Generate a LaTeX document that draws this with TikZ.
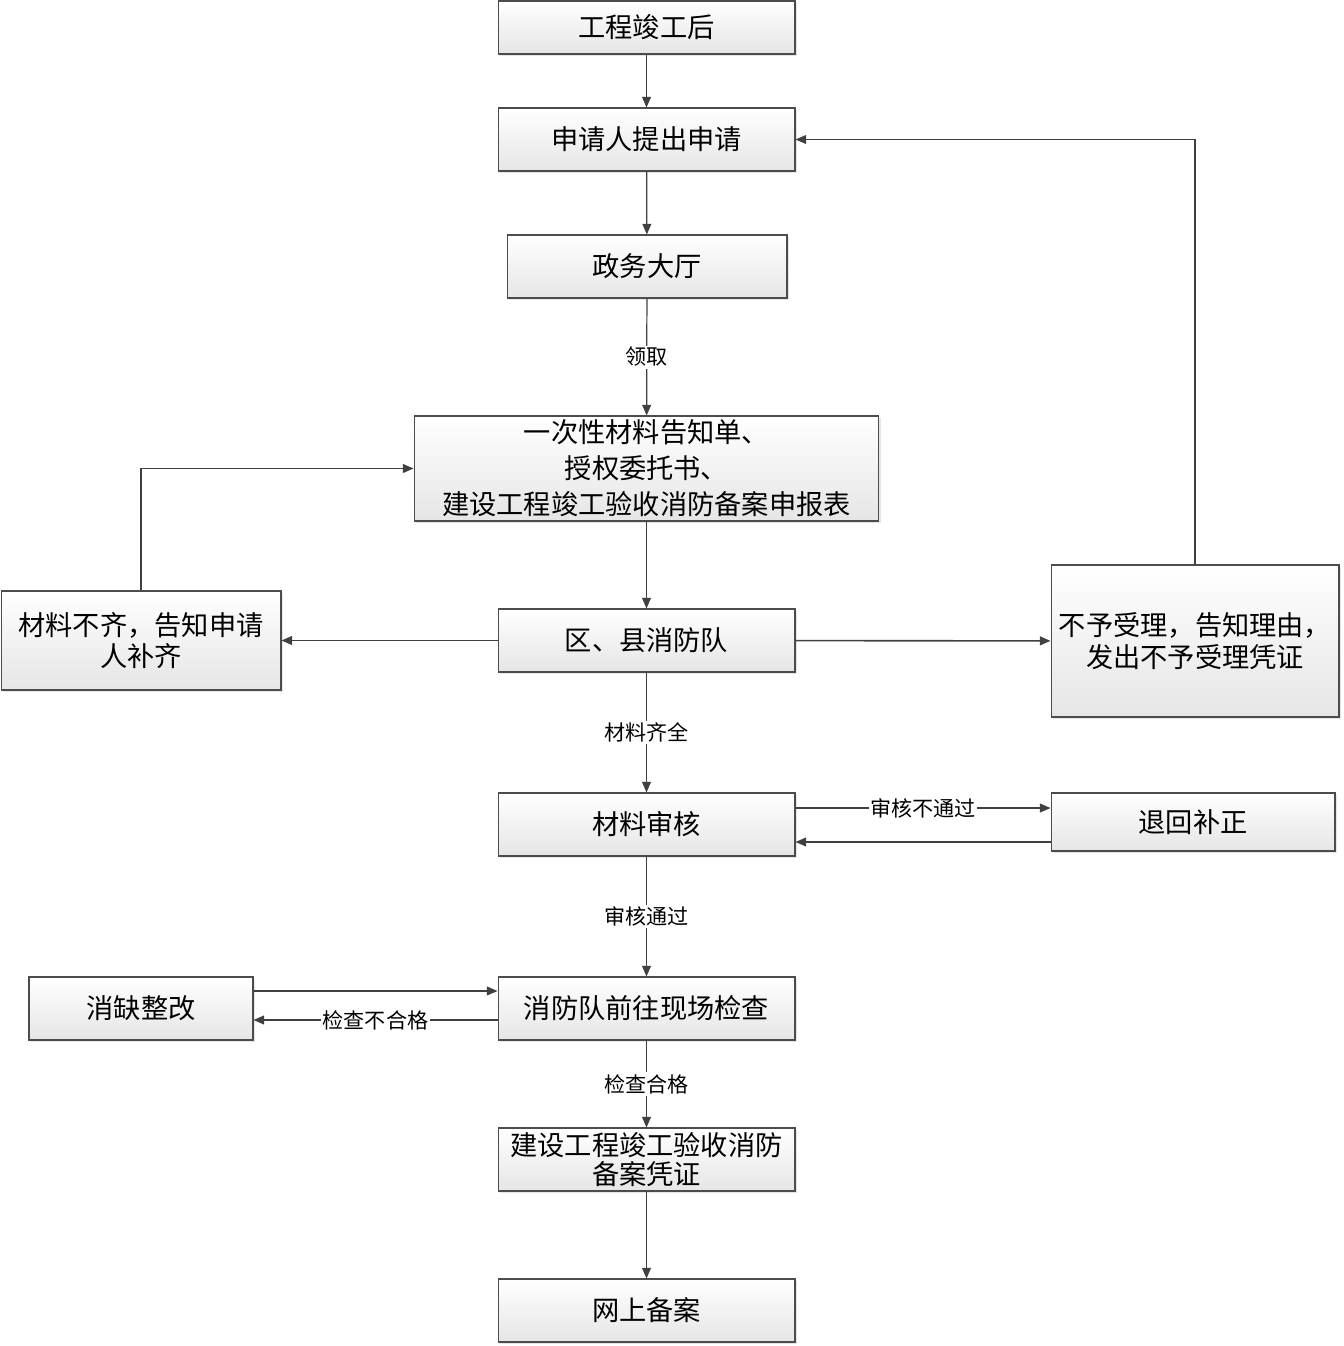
\documentclass[tikz,border=0pt]{standalone}
\usepackage{fontspec}
\setmainfont{Noto Sans CJK SC}
\usetikzlibrary{arrows.meta,shadows}

\begin{document}
\begin{tikzpicture}[x=0.02cm,y=-0.02cm]
	\tikzset{box/.style={draw=black!70, line width=0.6pt, top color=white, bottom color=black!10,
			drop shadow={shadow xshift=1.2pt, shadow yshift=-1.2pt, fill=black!20},
			align=center, inner sep=1pt, minimum width=5.94cm, minimum height=1.26cm,
			font=\fontsize{15.5}{19}\selectfont},
		arr/.style={draw=black!75, line width=0.7pt, -{Triangle[length=6pt,width=5pt]}},
		lbl/.style={fill=white, inner sep=1pt, font=\fontsize{12}{13}\selectfont}}
	\useasboundingbox (0,0) rectangle (1343,1346);
	% main column
	\node [box, minimum height=1.06cm] (done) at (646.5,27.5) {工程竣工后};
	\node [box] (apply) at (646.5,139.5) {申请人提出申请};
	\node [box, minimum width=5.6cm] (hall) at (647,266.5) {政务大厅};
	\node [box, minimum width=9.3cm, minimum height=2.1cm, font=\fontsize{15.5}{20.5}\selectfont] (form) at (646.5,468.5)
		{一次性材料告知单、\\授权委托书、\\建设工程竣工验收消防备案申报表};
	\node [box] (team) at (646.5,640.5) {区、县消防队};
	\node [box] (check) at (646.5,824.5) {材料审核};
	\node [box] (site) at (646.5,1008.5) {消防队前往现场检查};
	\node [box, font=\fontsize{15.5}{17}\selectfont] (cert) at (646.5,1159.5) {建设工程竣工验收消防\\备案凭证};
	\node [box] (online) at (646.5,1310.5) {网上备案};
	% side boxes
	\node [box, minimum width=5.6cm, minimum height=1.98cm, font=\fontsize{15.5}{18}\selectfont] (lack) at (141,640.5)
		{材料不齐，告知申请\\人补齐};
	\node [box, minimum width=5.76cm, minimum height=3.04cm, font=\fontsize{15.5}{18}\selectfont] (refuse) at (1195,641)
		{不予受理，告知理由，\\发出不予受理凭证};
	\node [box, minimum width=5.68cm, minimum height=1.16cm] (back) at (1193,822) {退回补正};
	\node [box, minimum width=4.48cm] (fix) at (141,1008.5) {消缺整改};
	% connectors
	\draw [arr] (done) -- (apply);
	\draw [arr] (apply) -- (hall);
	\draw [arr] (hall) -- node [lbl] {领取} (form);
	\draw [arr] (form) -- (team);
	\draw [arr, line width=0.9pt] (team) -- (lack);
	\draw [arr] (lack.north) |- (form.west);
	\draw [arr, line width=0.9pt] (team) -- (refuse);
	\draw [arr] (refuse.north) |- (apply.east);
	\draw [arr] (team) -- node [lbl] {材料齐全} (check);
	\coordinate (c1) at ([yshift=0.33cm]check.east);
	\coordinate (c2) at ([yshift=-0.35cm]check.east);
	\draw [arr] (c1) -- node [lbl] {审核不通过} (c1 -| back.west);
	\draw [arr] (c2 -| back.west) -- (c2);
	\draw [arr] (check) -- node [lbl] {审核通过} (site);
	\coordinate (s1) at ([yshift=0.35cm]site.west);
	\coordinate (s2) at ([yshift=-0.23cm]site.west);
	\draw [arr] (s1 -| fix.east) -- (s1);
	\draw [arr, line width=0.9pt] (s2) -- node [lbl] {检查不合格} (s2 -| fix.east);
	\draw [arr] (site) -- node [lbl] {检查合格} (cert);
	\draw [arr] (cert) -- (online);
\end{tikzpicture}
\end{document}
